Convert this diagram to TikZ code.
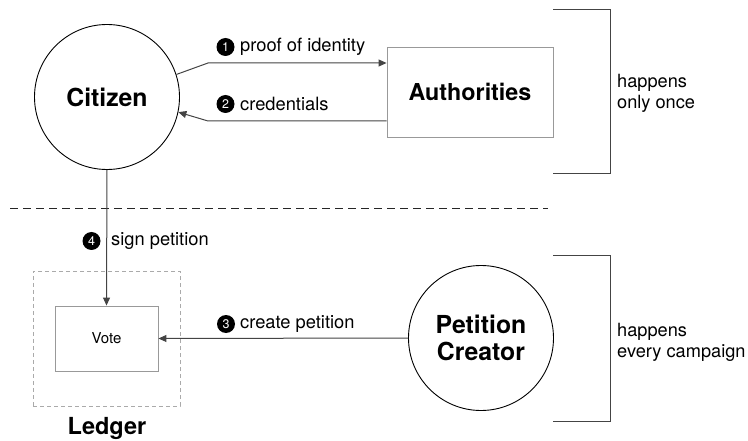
\documentclass[tikz,border=0pt]{standalone}
\usepackage{fontspec}
\setmainfont{TeX Gyre Heros}
\usetikzlibrary{arrows.meta}
\definecolor{linegray}{HTML}{444444}
\definecolor{boxgray}{HTML}{999999}
\definecolor{dashgray}{HTML}{AAAAAA}
\tikzset{
  actor/.style={circle, draw=black, line width=0.9pt, minimum size=145pt, inner sep=0pt, align=center, font=\fontsize{24.8}{27}\selectfont\bfseries},
  arr/.style={draw=linegray, line width=1pt, -{Triangle[length=8pt,width=7pt]}},
  lbl/.style={font=\fontsize{18.3}{21}\selectfont, inner sep=0pt, anchor=west},
  num/.style={circle, fill=black, text=white, inner sep=0pt, minimum size=18pt, font=\fontsize{12.5}{12.5}\selectfont},
  brk/.style={draw=linegray, line width=1pt},
  side/.style={font=\fontsize{18.2}{21}\selectfont, align=left, anchor=west, inner sep=0pt},
}
\begin{document}
\begin{tikzpicture}[x=1pt,y=-1pt]
\useasboundingbox (0,0) rectangle (748,441);
% nodes
\node[actor] (citizen) at (107,97) {Citizen};
\node[draw=boxgray, line width=0.9pt, minimum width=166pt, minimum height=90pt, inner sep=0pt, font=\fontsize{23.3}{26}\selectfont\bfseries] (auth) at (470,92) {Authorities};
\node[actor] (pc) at (481,338) {Petition\\Creator};
\node[draw=dashgray, dash pattern=on 4pt off 3pt, line width=0.8pt, minimum width=147pt, minimum height=135pt] (ledger) at (106.5,338.5) {};
\node[font=\fontsize{23.5}{26}\selectfont\bfseries] (ledgerlbl) at (107,428) {Ledger};
\node[draw=boxgray, line width=0.9pt, minimum width=103pt, minimum height=65pt, inner sep=0pt, font=\fontsize{15}{17}\selectfont] (vote) at (106.5,338.5) {Vote};
% dashed separator
\coordinate (sepL) at (10,208);
\coordinate (sepR) at (548,208);
\draw[black!85, dash pattern=on 8pt off 5pt, line width=0.8pt] (sepL) -- (sepR);
% arrows
\coordinate (a1) at (208,63);
\coordinate (a2) at (208,121);
\draw[arr] (citizen.18) -- (a1) -- ([yshift=29pt]auth.west);
\draw[arr] ([yshift=-29pt]auth.west) -- (a2) -- (citizen.-12);
\draw[arr] (citizen.south) -- (vote.north);
\draw[arr] (pc.west) -- (vote.east);
% labels
\node[num] (n1) at (225.5,47) {1};
\node[lbl] (l1) at (240,47) {proof of identity};
\node[num] (n2) at (225.5,104) {2};
\node[lbl] (l2) at (240,104) {credentials};
\node[num] (n4) at (91.5,241) {4};
\node[lbl] (l4) at (111,241) {sign petition};
\node[num] (n3) at (226,324) {3};
\node[lbl] (l3) at (240,324) {create petition};
% brackets
\coordinate (b1a) at (553,9.5);
\coordinate (b1b) at (610,9.5);
\coordinate (b1c) at (610,174);
\coordinate (b1d) at (553,174);
\draw[brk] (b1a) -- (b1b) -- (b1c) -- (b1d);
\coordinate (b2a) at (553,256);
\coordinate (b2b) at (610,256);
\coordinate (b2c) at (610,421);
\coordinate (b2d) at (553,421);
\draw[brk] (b2a) -- (b2b) -- (b2c) -- (b2d);
\node[side] (s1) at (617,93) {happens\\only once};
\node[side] (s2) at (617,342) {happens\\every campaign};
\end{tikzpicture}
\end{document}
